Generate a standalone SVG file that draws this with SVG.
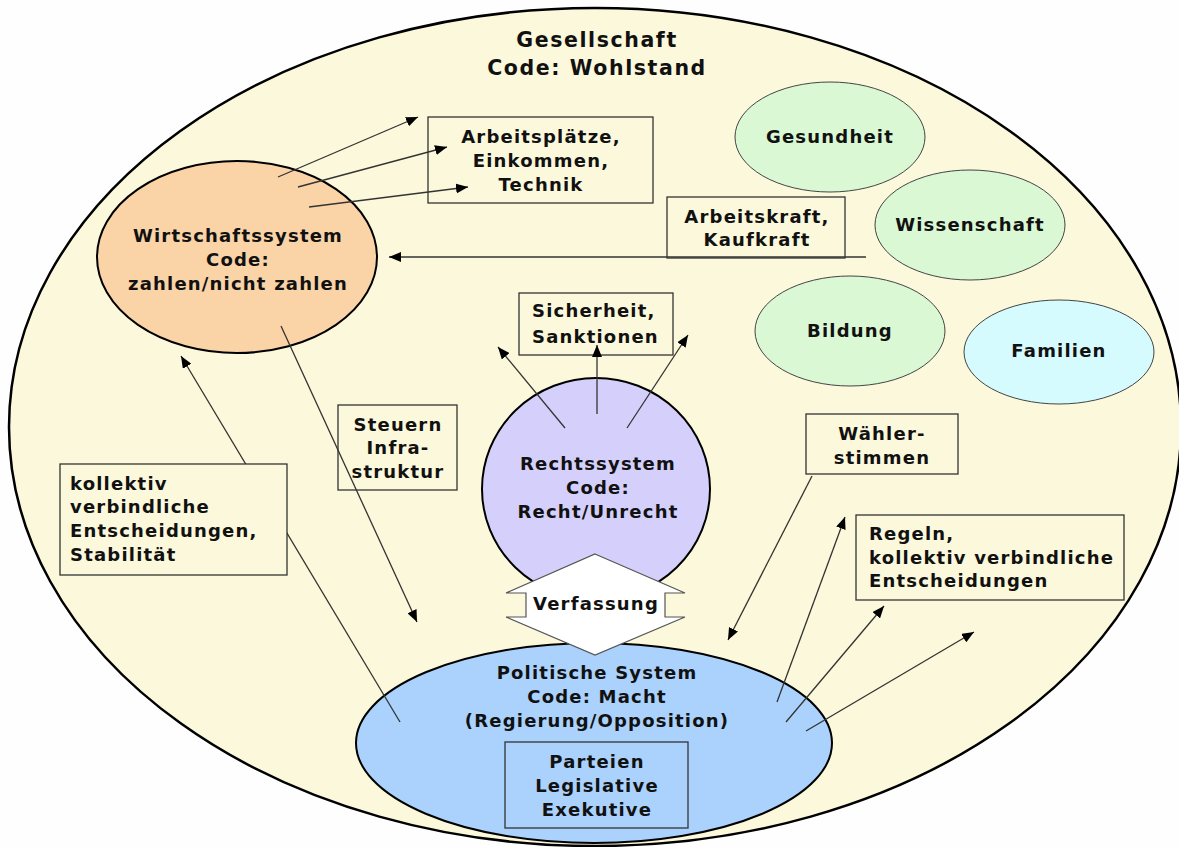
<svg xmlns="http://www.w3.org/2000/svg" width="1179" height="847" viewBox="0 0 1179 847">
<defs>
<style>
text{font-family:"DejaVu Sans","Liberation Sans",sans-serif;font-weight:bold;font-size:18px;letter-spacing:1.2px;fill:#111}
.c{text-anchor:middle}
.t{font-size:20.5px;letter-spacing:1.6px}
.box{fill:#FCF8DB;stroke:#333;stroke-width:1.3}
.con{stroke:#333;stroke-width:1.3;fill:none}
.arr{marker-end:url(#ah)}
.grn{fill:#DAF8D4;stroke:#444;stroke-width:1}
</style>
<marker id="ah" viewBox="0 0 12 10" refX="12" refY="5" markerUnits="userSpaceOnUse" markerWidth="12" markerHeight="10" orient="auto">
<path d="M0,0 L12,5 L0,10 z" fill="#000"/>
</marker>
</defs>
<rect width="1179" height="847" fill="#FEFEFE"/>
<g id="gesellschaft">
<ellipse cx="595" cy="427" rx="586" ry="419" fill="#FCF8DB" stroke="#000" stroke-width="2.5"/>
<text class="c t" x="597" y="47">Gesellschaft</text>
<text class="c t" x="597" y="75">Code: Wohlstand</text>
</g>
<g id="wirtschaft">
<ellipse cx="237" cy="257" rx="140" ry="96" fill="#FAD3A7" stroke="#000" stroke-width="2"/>
<text class="c" x="238" y="242">Wirtschaftssystem</text>
<text class="c" x="238" y="266">Code:</text>
<text class="c" x="238" y="290">zahlen/nicht zahlen</text>
</g>
<g id="gesundheit">
<ellipse class="grn" cx="830" cy="137" rx="95" ry="55"/>
<text class="c" x="830" y="143">Gesundheit</text>
</g>
<g id="wissenschaft">
<ellipse class="grn" cx="970" cy="225" rx="95" ry="55"/>
<text class="c" x="970" y="231">Wissenschaft</text>
</g>
<g id="bildung">
<ellipse class="grn" cx="850" cy="331" rx="95" ry="55"/>
<text class="c" x="850" y="337">Bildung</text>
</g>
<g id="familien">
<ellipse cx="1059" cy="352" rx="95" ry="52" fill="#D6FBFE" stroke="#444" stroke-width="1"/>
<text class="c" x="1059" y="357">Familien</text>
</g>
<g id="recht">
<ellipse cx="596" cy="489" rx="114" ry="111" fill="#D4D0FB" stroke="#000" stroke-width="2"/>
<text class="c" x="598" y="470">Rechtssystem</text>
<text class="c" x="598" y="494">Code:</text>
<text class="c" x="598" y="518">Recht/Unrecht</text>
</g>
<g id="politik">
<ellipse cx="594" cy="743" rx="238" ry="100" fill="#AAD2FD" stroke="#000" stroke-width="2"/>
</g>
<g id="arbeitsplaetze">
<rect class="box" x="428" y="117" width="225" height="86"/>
<text class="c" x="541" y="143">Arbeitsplätze,</text>
<text class="c" x="541" y="167">Einkommen,</text>
<text class="c" x="541" y="191">Technik</text>
</g>
<g id="arbeitskraft">
<rect class="box" x="667" y="197" width="178" height="61"/>
<text class="c" x="757" y="223">Arbeitskraft,</text>
<text class="c" x="757" y="246">Kaufkraft</text>
</g>
<g id="sicherheit">
<rect class="box" x="519" y="293" width="154" height="62"/>
<text x="532" y="317">Sicherheit,</text>
<text x="532" y="343">Sanktionen</text>
</g>
<g id="steuern">
<rect class="box" x="338" y="405" width="119" height="85"/>
<text class="c" x="398" y="431">Steuern</text>
<text class="c" x="398" y="454">Infra-</text>
<text class="c" x="398" y="478">struktur</text>
</g>
<g id="waehler">
<rect class="box" x="806" y="414" width="152" height="60"/>
<text class="c" x="882" y="440">Wähler-</text>
<text class="c" x="882" y="464">stimmen</text>
</g>
<g id="regeln">
<rect class="box" x="856" y="515" width="268" height="85"/>
<text x="869" y="540">Regeln,</text>
<text x="869" y="564">kollektiv verbindliche</text>
<text x="869" y="587">Entscheidungen</text>
</g>
<g id="connectors">
<line class="con arr" x1="278" y1="177" x2="418" y2="117"/>
<line class="con arr" x1="298" y1="187" x2="447" y2="147"/>
<line class="con arr" x1="309" y1="207" x2="468" y2="187"/>
<line class="con arr" x1="866" y1="257" x2="389" y2="257"/>
<line class="con arr" x1="565" y1="428" x2="498" y2="347"/>
<line class="con arr" x1="597" y1="414" x2="597" y2="345"/>
<line class="con arr" x1="627" y1="428" x2="688" y2="335"/>
<line class="con arr" x1="281" y1="326" x2="417" y2="622"/>
<line class="con arr" x1="400" y1="722" x2="181" y2="356"/>
<line class="con arr" x1="812" y1="476" x2="728" y2="640"/>
<line class="con arr" x1="777" y1="702" x2="845" y2="517"/>
<line class="con arr" x1="786" y1="722" x2="884" y2="606"/>
<line class="con arr" x1="806" y1="731" x2="974" y2="632"/>
</g>
<g id="kollektiv">
<rect class="box" x="60" y="464" width="227" height="111"/>
<text x="70" y="490">kollektiv</text>
<text x="70" y="513">verbindliche</text>
<text x="70" y="537">Entscheidungen,</text>
<text x="70" y="561">Stabilität</text>
</g>
<g id="verfassung">
<polygon points="595,554 685,593 665,593 665,617 685,617 595,655 506,617 526,617 526,593 506,593" fill="#FFF" stroke="#555" stroke-width="1.2"/>
<text class="c" x="596" y="610">Verfassung</text>
</g>
<g id="politik-text">
<text class="c" x="597" y="679">Politische System</text>
<text class="c" x="597" y="703">Code: Macht</text>
<text class="c" x="597" y="727">(Regierung/Opposition)</text>
<rect x="505" y="742" width="183" height="86" fill="#AAD2FD" stroke="#333" stroke-width="1.3"/>
<text class="c" x="597" y="768">Parteien</text>
<text class="c" x="597" y="792">Legislative</text>
<text class="c" x="597" y="816">Exekutive</text>
</g>
</svg>
